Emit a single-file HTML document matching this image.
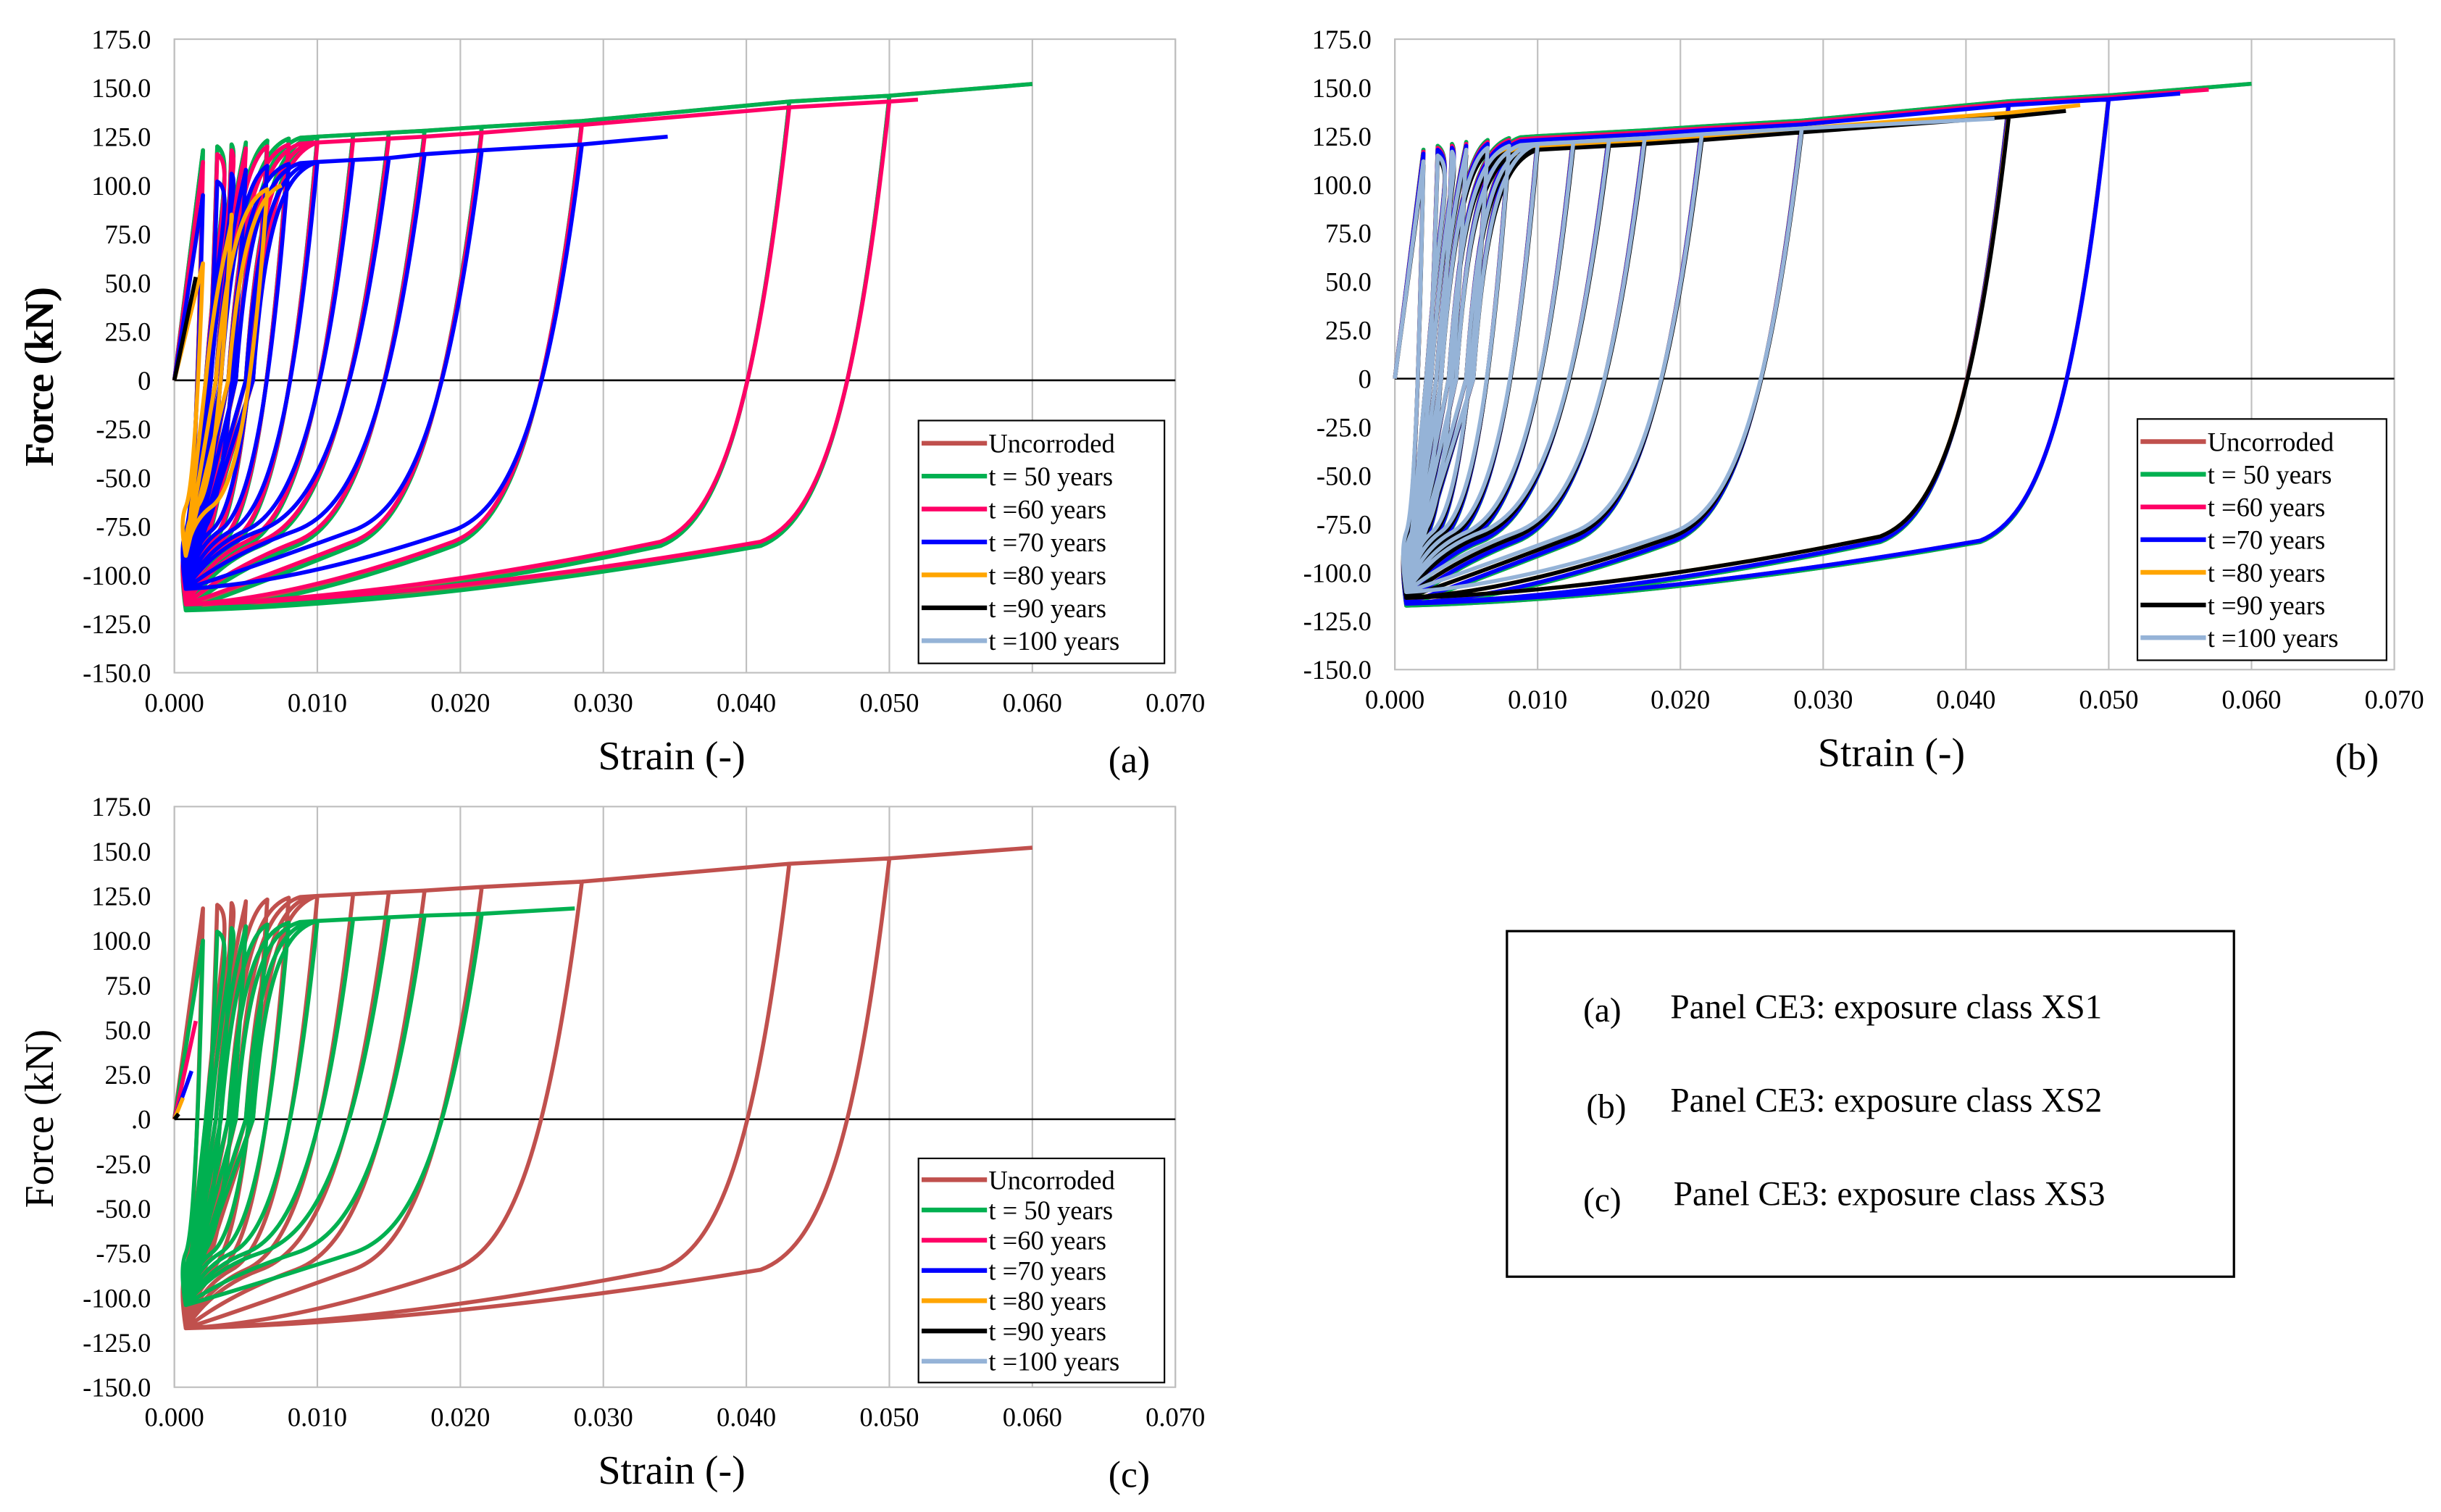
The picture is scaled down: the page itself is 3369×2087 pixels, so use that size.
<!DOCTYPE html>
<html><head><meta charset="utf-8"><style>
html,body{margin:0;padding:0;background:#fff;}
svg{display:block;}
text{font-family:"Liberation Serif",serif;fill:#000;}
</style></head>
<body>
<svg id="root" width="3369" height="2087" viewBox="0 0 1568 971" xmlns="http://www.w3.org/2000/svg">
<rect width="1568" height="971" fill="#fff"/>
<g id="note">
<rect x="968" y="598" width="467" height="222" fill="#fff" stroke="#000" stroke-width="1.5"/>
<text x="1017" y="656" font-size="22">(a)</text><text x="1073" y="654" font-size="22">Panel CE3: exposure class XS1</text>
<text x="1019" y="718" font-size="22">(b)</text><text x="1073" y="714" font-size="22">Panel CE3: exposure class XS2</text>
<text x="1017" y="778" font-size="22">(c)</text><text x="1075" y="774" font-size="22">Panel CE3: exposure class XS3</text>
</g>
</svg>
<script>
const uncPeaks=[0.002,0.003,0.004,0.005,0.0065,0.008,0.010,0.0125,0.015,0.0175,0.0215,0.0285,0.043,0.050,0.060];
const uncForces=[118,120,121,122,123,124,125,126,127,128,130,133,143,146,152];
const a60Peaks=[0.002,0.003,0.004,0.005,0.0065,0.008,0.010,0.0125,0.015,0.0175,0.0215,0.0285,0.043,0.050,0.052];
const a60Forces=[112,116,118,119,120,121,122,123,124,125,127,131,140,143,144];
const a70Peaks=[0.002,0.003,0.004,0.005,0.0065,0.008,0.010,0.0125,0.015,0.0175,0.0215,0.0285,0.0345];
const a70Forces=[95,102,106,108,110,111,112,113,114,116,118,121,125];
const a80Peaks=[0.002,0.004,0.0065,0.0075];
const a80Forces=[60,85,98,100];
const a90Peaks=[0.0015];
const a90Forces=[53];
const b60Peaks=[0.002,0.003,0.004,0.005,0.0065,0.008,0.010,0.0125,0.015,0.0175,0.0215,0.0285,0.043,0.050,0.057];
const b60Forces=[117,119,120,121,122,123,124,125,126,127,129,132,142,145,149];
const b70Peaks=[0.002,0.003,0.004,0.005,0.0065,0.008,0.010,0.0125,0.015,0.0175,0.0215,0.0285,0.043,0.050,0.055];
const b70Forces=[116,118,119,120,121,122,123,124,125,126,128,131,141,144,147];
const b80Peaks=[0.002,0.003,0.004,0.005,0.0065,0.008,0.010,0.0125,0.015,0.0175,0.0215,0.0285,0.043,0.048];
const b80Forces=[112,115,116,117,118,119,120,121,122,123,125,129,137,141];
const b90Peaks=[0.002,0.003,0.004,0.005,0.0065,0.008,0.010,0.0125,0.015,0.0175,0.0215,0.0285,0.043,0.047];
const b90Forces=[110,113,114,115,116,117,118,119,120,121,123,127,135,138];
const b100Peaks=[0.002,0.003,0.004,0.005,0.0065,0.008,0.010,0.0125,0.015,0.0175,0.0215,0.0285,0.042];
const b100Forces=[112,115,117,118,119,120,121,122,123,124,126,129,134];
const c50Peaks=[0.002,0.003,0.004,0.005,0.0065,0.008,0.010,0.0125,0.015,0.0175,0.0215,0.028];
const c50Forces=[100,105,107,108,109,110,111,112,113,114,115,118];
const c60Peaks=[0.0015];const c60Forces=[55];
const c70Peaks=[0.0012];const c70Forces=[27];
const c80Peaks=[0.0006];const c80Forces=[12];
const c90Peaks=[0.0003];const c90Forces=[3];
const yTicks=[175,150,125,100,75,50,25,0,-25,-50,-75,-100,-125,-150];
const xTicks=[0,0.01,0.02,0.03,0.04,0.05,0.06,0.07];
const legendLabels=["Uncorroded","t = 50 years","t =60 years","t =70 years","t =80 years","t =90 years","t =100 years"];
const colors=["#c0504d","#00b050","#ff0066","#0000ff","#ffa500","#000000","#95b3d7"];

const NS="http://www.w3.org/2000/svg";
const root=document.getElementById('root');
function mk(tag,parent){const e=document.createElementNS(NS,tag);parent.appendChild(e);return e;}
function envAt(s,x){
  // force on the series envelope at strain x, from its peak arrays
  const P=s.peaks,F=s.forces;
  if(x<=P[0])return F[0];
  for(let i=1;i<P.length;i++){if(x<=P[i]){const t=(x-P[i-1])/(P[i]-P[i-1]);return F[i-1]+t*(F[i]-F[i-1]);}}
  return F[F.length-1];
}

function panel(cfg){
  const g=mk('g',root);
  
  
  const {x0,x1,yTop,yBot}=cfg;
  const sx=v=>x0+(v/0.07)*(x1-x0);
  const sy=v=>yTop+(175-v)/325*(yBot-yTop);
  const fr=mk('rect',g);
  fr.setAttribute('x',x0);fr.setAttribute('y',yTop);fr.setAttribute('width',x1-x0);fr.setAttribute('height',yBot-yTop);
  fr.setAttribute('fill','none');fr.setAttribute('stroke','#bfbfbf');fr.setAttribute('stroke-width','1');
  
  
  xTicks.forEach(t=>{
    const l=mk('line',g);l.setAttribute('x1',sx(t));l.setAttribute('x2',sx(t));l.setAttribute('y1',yTop);l.setAttribute('y2',yBot);
    l.setAttribute('stroke','#bfbfbf');l.setAttribute('stroke-width','1');
    
    
    const tx=mk('text',g);tx.setAttribute('x',sx(t));tx.setAttribute('y',yBot+25);tx.setAttribute('text-anchor','middle');tx.setAttribute('font-size','17');
    tx.textContent=t.toFixed(3);
    
    
  });
  yTicks.forEach(t=>{
    const tx=mk('text',g);tx.setAttribute('x',x0-15);tx.setAttribute('y',sy(t)+6);tx.setAttribute('text-anchor','end');tx.setAttribute('font-size','17');
    tx.textContent=t===0?cfg.zeroLabel:t.toFixed(1);
    
    
  });
  const z=mk('line',g);z.setAttribute('x1',x0);z.setAttribute('x2',x1);z.setAttribute('y1',sy(0));z.setAttribute('y2',sy(0));
  z.setAttribute('stroke','#000');z.setAttribute('stroke-width','1.2');
  
  
  const xt=mk('text',g);xt.setAttribute('x',(x0+x1)/2-2);xt.setAttribute('y',yBot+62);xt.setAttribute('text-anchor','middle');xt.setAttribute('font-size','26');xt.textContent='Strain (-)';
  
  
  const yt=mk('text',g);const cy=(yTop+yBot)/2+14;yt.setAttribute('x',0);yt.setAttribute('y',0);yt.setAttribute('transform','translate(34,'+cy+') rotate(-90)');yt.setAttribute('text-anchor','middle');yt.setAttribute('font-size','26');yt.setAttribute('font-weight','normal');yt.textContent='Force (kN)';
  
  
  const pl=mk('text',g);pl.setAttribute('x',cfg.labX);pl.setAttribute('y',yBot+64);pl.setAttribute('font-size','24');pl.textContent=cfg.label;
  
  

  cfg.series.forEach(s=>{
    if(!s.peaks.length)return;
    let d='M'+sx(0)+','+sy(0);
    const n=s.peaks.length;
    for(let i=0;i<n;i++){
      const p=s.peaks[i],F=s.forces[i];
      if(i>0){
        const pp=s.peaks[i-1];
        const zc=Math.min(0.0015+pp*0.35,0.0055);
        const top=Math.min(zc+0.0045,p);
        const Ft=Math.min(envAt(s,top),F);
        d+=' L'+sx(zc)+','+sy(0);
        d+=' C'+sx(zc+0.0008)+','+sy(Ft*0.7)+' '+sx(zc+0.002)+','+sy(Ft*0.95)+' '+sx(top)+','+sy(Ft);
        if(p>top){
          // follow envelope
          s.peaks.forEach((q,j)=>{if(q>top&&q<p)d+=' L'+sx(q)+','+sy(Math.min(s.forces[j],F));});
          d+=' L'+sx(p)+','+sy(F);
        }
      }else{
        d+=' L'+sx(p)+','+sy(F);
      }
      if(i<n-1){
        const k=Math.min(1,p/0.015);
        const e1=p-0.009*k, c1=p-0.0024*k, c2=p-0.005*k;
        const m=s.min;
        d+=' C'+sx(c1)+','+sy(-20*k)+' '+sx(c2)+','+sy(m*0.62)+' '+sx(e1)+','+sy(m*0.72);
        const cx=e1*0.45;
        const lam=(e1-cx)/(0.004*k);
        const cf=Math.max(m*(0.72+0.1*lam),m*0.97);
        d+=' Q'+sx(cx)+','+sy(m>0?m:cf)+' '+sx(0.0008)+','+sy(m);
      }
    }
    const path=mk('path',g);
    path.setAttribute('d',d);path.setAttribute('fill','none');path.setAttribute('stroke',s.color);
    path.setAttribute('stroke-width','2.6');path.setAttribute('stroke-linejoin','round');
    
    
  });

  const lg=mk('g',g);
  
  
  const lr=mk('rect',lg);const L=cfg.leg;
  lr.setAttribute('x',L.x);lr.setAttribute('y',L.y);lr.setAttribute('width',L.w);lr.setAttribute('height',L.h);
  lr.setAttribute('fill','#fff');lr.setAttribute('stroke','#000');lr.setAttribute('stroke-width','1');
  const step=(L.h-8)/7;
  legendLabels.forEach((lab,i)=>{
    const yy=L.y+4+step*(i+0.5);
    const ln=mk('line',lg);ln.setAttribute('x1',L.x+2);ln.setAttribute('x2',L.x+44);ln.setAttribute('y1',yy);ln.setAttribute('y2',yy);
    ln.setAttribute('stroke',colors[i]);ln.setAttribute('stroke-width','3');
    
    
    const t=mk('text',lg);t.setAttribute('x',L.x+45);t.setAttribute('y',yy+6);t.setAttribute('font-size','17');t.textContent=lab;
    
    
  });
}

panel({id:'a',x0:112,x1:755,yTop:25,yBot:432,zeroLabel:'0',label:'(a)',labX:712,
  leg:{x:590,y:270,w:158,h:156},
  series:[
    {key:'uncorroded',color:colors[0],peaks:uncPeaks,forces:uncForces,min:-117},
    {key:'t50',color:colors[1],peaks:uncPeaks,forces:uncForces,min:-118},
    {key:'t60',color:colors[2],peaks:a60Peaks,forces:a60Forces,min:-115},
    {key:'t70',color:colors[3],peaks:a70Peaks,forces:a70Forces,min:-107},
    {key:'t80',color:colors[4],peaks:a80Peaks,forces:a80Forces,min:-90},
    {key:'t90',color:colors[5],peaks:a90Peaks,forces:a90Forces,min:0}
  ]});
panel({id:'b',x0:896,x1:1538,yTop:25,yBot:430,zeroLabel:'0',label:'(b)',labX:1500,
  leg:{x:1373,y:269,w:160,h:155},
  series:[
    {key:'uncorroded',color:colors[0],peaks:uncPeaks,forces:uncForces,min:-117},
    {key:'t50',color:colors[1],peaks:uncPeaks,forces:uncForces,min:-117},
    {key:'t60',color:colors[2],peaks:b60Peaks,forces:b60Forces,min:-116},
    {key:'t70',color:colors[3],peaks:b70Peaks,forces:b70Forces,min:-116},
    {key:'t80',color:colors[4],peaks:b80Peaks,forces:b80Forces,min:-113},
    {key:'t90',color:colors[5],peaks:b90Peaks,forces:b90Forces,min:-113},
    {key:'t100',color:colors[6],peaks:b100Peaks,forces:b100Forces,min:-110}
  ]});
panel({id:'c',x0:112,x1:755,yTop:518,yBot:891,zeroLabel:'.0',label:'(c)',labX:712,
  leg:{x:590,y:744,w:158,h:144},
  series:[
    {key:'uncorroded',color:colors[0],peaks:uncPeaks,forces:uncForces,min:-117},
    {key:'t50',color:colors[1],peaks:c50Peaks,forces:c50Forces,min:-104},
    {key:'t60',color:colors[2],peaks:c60Peaks,forces:c60Forces,min:0},
    {key:'t70',color:colors[3],peaks:c70Peaks,forces:c70Forces,min:0},
    {key:'t80',color:colors[4],peaks:c80Peaks,forces:c80Forces,min:0},
    {key:'t90',color:colors[5],peaks:c90Peaks,forces:c90Forces,min:0}
  ]});
</script>
</body></html>
